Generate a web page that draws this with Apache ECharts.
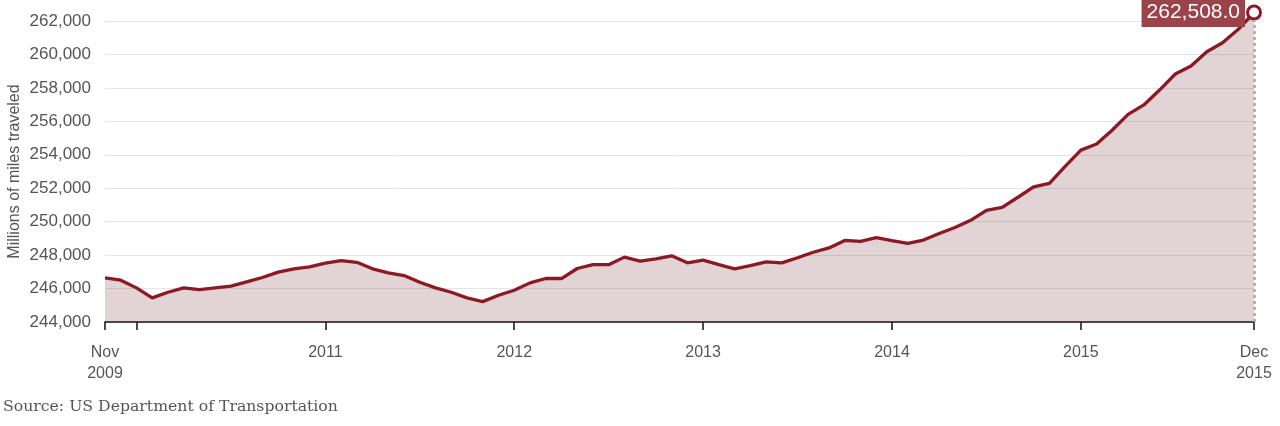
<!DOCTYPE html>
<html>
<head>
<meta charset="utf-8">
<script src="https://cdn.jsdelivr.net/npm/echarts@6/dist/echarts.min.js"></script>
<style>
html,body{margin:0;padding:0;background:#fff;}
#chart{width:1280px;height:426px;}
</style>
</head>
<body>
<div id="chart"></div>
<script>
// Monthly categories, Nov 2009 – Dec 2015
const months = [
 '2009-11','2009-12',
 '2010-01','2010-02','2010-03','2010-04','2010-05','2010-06','2010-07','2010-08','2010-09','2010-10','2010-11','2010-12',
 '2011-01','2011-02','2011-03','2011-04','2011-05','2011-06','2011-07','2011-08','2011-09','2011-10','2011-11','2011-12',
 '2012-01','2012-02','2012-03','2012-04','2012-05','2012-06','2012-07','2012-08','2012-09','2012-10','2012-11','2012-12',
 '2013-01','2013-02','2013-03','2013-04','2013-05','2013-06','2013-07','2013-08','2013-09','2013-10','2013-11','2013-12',
 '2014-01','2014-02','2014-03','2014-04','2014-05','2014-06','2014-07','2014-08','2014-09','2014-10','2014-11','2014-12',
 '2015-01','2015-02','2015-03','2015-04','2015-05','2015-06','2015-07','2015-08','2015-09','2015-10','2015-11','2015-12'
];
// Millions of miles traveled
const milesTraveled = [
 246640,246500,
 246040,245440,245780,246040,245940,246040,246140,246400,246660,246980,247180,247300,
 247520,247670,247570,247180,246940,246780,246380,246040,245780,245440,245220,245600,
 245900,246340,246600,246600,247200,247430,247430,247880,247640,247780,247960,247540,
 247700,247430,247180,247370,247600,247540,247840,248170,248430,248880,248820,249040,
 248860,248700,248900,249290,249650,250080,250680,250860,251460,252080,252290,253310,
 254280,254640,255480,256420,256980,257870,258830,259310,260160,260700,261500,262508
];
const xTickMonths = ['2009-11','2010-01','2011-01','2012-01','2013-01','2014-01','2015-01','2015-12'];
const xTickLabels = ['Nov\n2009','','2011','2012','2013','2014','2015','Dec\n2015'];
const yMin = 244000, yMax = 262000, yStep = 2000;
const yAxisTitle = 'Millions of miles traveled';
const sourceText = 'Source: US Department of Transportation';

const lastIdx = milesTraveled.length - 1;
const fmt = v => v.toLocaleString('en-US');
const FONT = 'Liberation Sans, Arial, sans-serif';

const seriesData = milesTraveled.map((v, i) => i === lastIdx ? {
  value: v,
  symbol: 'circle', symbolSize: 13,
  itemStyle: {color:'#ffffff', borderColor:'#8b1a24', borderWidth:3},
  label: {
    show:true, position:'left', distance:1,
    formatter: p => fmt(p.value) + '.0',
    color:'#fff', backgroundColor:'#9a434a',
    fontFamily:FONT, fontSize:21, lineHeight:22, padding:[5,5,2,5]
  }
} : v);

const chart = echarts.init(document.getElementById('chart'), null, {renderer:'canvas'});
const option = {
  animation:false,
  grid:{left:105, right:26, top:21, bottom:104, containLabel:false, outerBoundsMode:'none'},
  xAxis:{
    type:'category',
    data:months,
    boundaryGap:false,
    axisLine:{show:true, lineStyle:{color:'#111', width:1.5}},
    axisTick:{show:true, length:8, lineStyle:{color:'#111', width:1.5},
      interval:(i,v)=>xTickMonths.includes(v)},
    axisLabel:{
      interval:(i,v)=>xTickMonths.includes(v),
      formatter:(v)=>{const k=xTickMonths.indexOf(v); return k>=0?xTickLabels[k]:'';},
      color:'#555', fontFamily:FONT, fontSize:16,
      margin:20, lineHeight:21, showMinLabel:true, showMaxLabel:true, hideOverlap:false
    },
    splitLine:{show:false}
  },
  yAxis:{
    type:'value', min:yMin, max:yMax, interval:yStep,
    name:yAxisTitle, nameLocation:'middle', nameGap:82, nameRotate:90, nameMoveOverlap:false,
    nameTextStyle:{color:'#555', fontFamily:FONT, fontSize:16},
    axisLine:{show:false}, axisTick:{show:false},
    axisLabel:{formatter:v=>fmt(v), color:'#555', fontFamily:FONT, fontSize:17, margin:14},
    splitLine:{show:true, lineStyle:{color:'#e4e4ea', width:1}}
  },
  series:[{
    type:'line',
    data:seriesData,
    clip:false,
    symbol:'none',
    showSymbol:true,
    smooth:false,
    lineStyle:{color:'#8b1a24', width:3.3},
    areaStyle:{color:'rgba(120,45,50,0.21)', opacity:1, origin:'start'},
    z:3,
    markLine:{
      silent:true, symbol:['none','none'],
      label:{show:false},
      lineStyle:{color:'#a8a8a8', type:[3,3], width:2.5},
      data:[{xAxis:lastIdx}]
    }
  }],
  graphic:[{
    type:'text', left:3, top:399,
    style:{text:sourceText, fill:'#555', font:'15.7px "DejaVu Serif", Georgia, serif'}
  }]
};
chart.setOption(option);
</script>
</body>
</html>
